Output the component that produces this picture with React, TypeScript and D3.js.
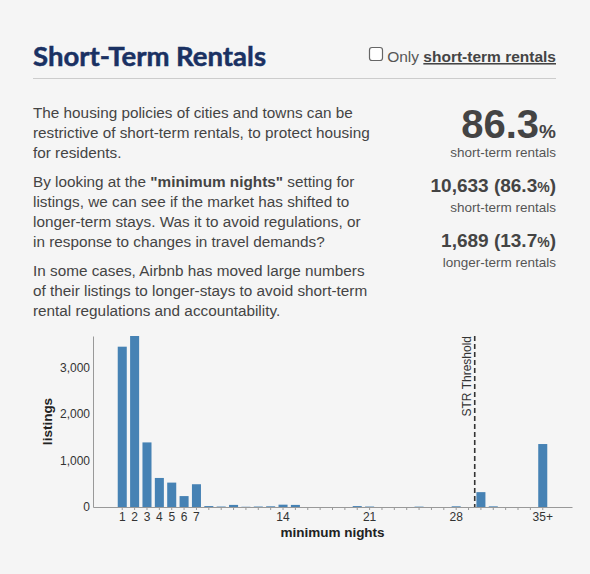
import React, { useRef, useEffect } from 'react';
import * as d3 from 'd3';

// minimum nights categories (35 = "35 or more")
const nights: string[] = [
  '1', '2', '3', '4', '5', '6', '7', '8', '9', '10',
  '11', '12', '13', '14', '15', '16', '17', '18', '19', '20',
  '21', '22', '23', '24', '25', '26', '27', '28', '29', '30',
  '31', '32', '33', '34', '35+',
];
const listings: number[] = [
  3450, 3680, 1390, 625, 525, 235, 490, 20, 10, 45,
  5, 10, 15, 50, 45, 0, 0, 0, 0, 20,
  10, 0, 0, 0, 8, 0, 0, 15, 0, 320,
  14, 0, 0, 0, 1355,
];
const labelledNights: string[] = ['1', '2', '3', '4', '5', '6', '7', '14', '21', '28', '35+'];
const yTicks: number[] = [0, 1000, 2000, 3000];
const threshold = '30';

// headline counts
const shortCount = 10633;
const longCount = 1689;

const paragraphs: string[][] = [
  [
    'The housing policies of cities and towns can be',
    'restrictive of short-term rentals, to protect housing',
    'for residents.',
  ],
  [
    'By looking at the |"minimum nights"| setting for',
    'listings, we can see if the market has shifted to',
    'longer-term stays. Was it to avoid regulations, or',
    'in response to changes in travel demands?',
  ],
  [
    'In some cases, Airbnb has moved large numbers',
    'of their listings to longer-stays to avoid short-term',
    'rental regulations and accountability.',
  ],
];

const sans = 'Arial, "Liberation Sans", sans-serif';

const App: React.FC = () => {
  const svgRef = useRef<SVGSVGElement | null>(null);

  useEffect(() => {
    if (!svgRef.current) return;
    const width = 590;
    const height = 574;
    const svg = d3.select(svgRef.current).attr('width', width).attr('height', height);
    svg.selectAll('*').remove();

    svg.append('rect').attr('width', width).attr('height', height).attr('fill', '#f5f5f5');

    // header
    svg.append('text')
      .attr('x', 33).attr('y', 66)
      .attr('font-family', 'Lato, sans-serif')
      .attr('font-weight', 700)
      .attr('font-size', 27.5)
      .attr('fill', '#1a3163')
      .attr('stroke', '#1a3163')
      .attr('stroke-width', 0.5)
      .text('Short-Term Rentals');

    svg.append('line')
      .attr('x1', 33).attr('x2', 556).attr('y1', 78.5).attr('y2', 78.5)
      .attr('stroke', '#cccccc');

    svg.append('rect')
      .attr('x', 369.5).attr('y', 47.5).attr('width', 13).attr('height', 13)
      .attr('rx', 2.5)
      .attr('fill', '#fff').attr('stroke', '#666').attr('stroke-width', 1.2);

    const only = svg.append('text')
      .attr('x', 556).attr('y', 62)
      .attr('text-anchor', 'end')
      .attr('font-family', sans).attr('font-size', 15.5)
      .attr('fill', '#555');
    only.append('tspan').text('Only ');
    only.append('tspan')
      .attr('font-weight', 700).attr('fill', '#444')
      .attr('text-decoration', 'underline')
      .text('short-term rentals');

    // body text
    const lineStarts = [[118, 138, 158], [187, 207, 227, 247], [276, 296, 316]];
    paragraphs.forEach((lines, p) => {
      lines.forEach((line, i) => {
        const t = svg.append('text')
          .attr('x', 33).attr('y', lineStarts[p][i])
          .attr('font-family', sans).attr('font-size', 15.3)
          .attr('fill', '#444');
        line.split('|').forEach((part, k) => {
          t.append('tspan').attr('font-weight', k === 1 ? 700 : 400).text(part);
        });
      });
    });

    // stats
    const fmt = d3.format(',');
    const shareShort = ((shortCount / (shortCount + longCount)) * 100).toFixed(1);
    const shareLong = ((longCount / (shortCount + longCount)) * 100).toFixed(1);

    const big = svg.append('text')
      .attr('x', 556).attr('y', 138).attr('text-anchor', 'end')
      .attr('font-family', sans).attr('font-weight', 700).attr('fill', '#444');
    big.append('tspan').attr('font-size', 40).text(shareShort);
    big.append('tspan').attr('font-size', 19).text('%');
    svg.append('text')
      .attr('x', 556).attr('y', 157).attr('text-anchor', 'end')
      .attr('font-family', sans).attr('font-size', 13.5).attr('fill', '#555')
      .text('short-term rentals');

    const stat = (y: number, count: number, share: string, label: string) => {
      const t = svg.append('text')
        .attr('x', 556).attr('y', y).attr('text-anchor', 'end')
        .attr('font-family', sans).attr('font-weight', 700).attr('font-size', 19)
        .attr('fill', '#444');
      t.append('tspan').text(`${fmt(count)} (${share}`);
      t.append('tspan').attr('font-size', 14).text('%');
      t.append('tspan').text(')');
      svg.append('text')
        .attr('x', 556).attr('y', y + 20).attr('text-anchor', 'end')
        .attr('font-family', sans).attr('font-size', 13.5).attr('fill', '#555')
        .text(label);
    };
    stat(192, shortCount, shareShort, 'short-term rentals');
    stat(247, longCount, shareLong, 'longer-term rentals');

    // chart
    const left = 93;
    const right = 572;
    const bottom = 507;

    const x = d3.scaleBand<string>()
      .domain(nights)
      .range([left, right])
      .paddingInner(0.27)
      .paddingOuter(2);

    const yMax = d3.max(listings) as number;
    const y = d3.scaleLinear()
      .domain([0, yMax])
      .range([bottom, 336]);

    const g = svg.append('g');

    g.selectAll('rect.bar')
      .data(listings)
      .join('rect')
      .attr('class', 'bar')
      .attr('x', (_, i) => x(nights[i]) as number)
      .attr('width', x.bandwidth())
      .attr('y', d => y(d))
      .attr('height', d => bottom - y(d))
      .attr('fill', '#4682b4');

    const xAxis = g.append('g')
      .attr('transform', `translate(0,${bottom})`)
      .call(
        d3.axisBottom(x)
          .tickSizeInner(3)
          .tickSizeOuter(0)
          .tickPadding(2)
          .tickFormat(d => (labelledNights.includes(d) ? d : ''))
      );
    xAxis.select('.domain').attr('stroke', '#999');
    xAxis.selectAll('.tick line').attr('stroke', '#999');
    xAxis.selectAll('.tick text')
      .attr('font-family', sans).attr('font-size', 12).attr('fill', '#333');

    const yAxis = g.append('g')
      .attr('transform', `translate(${left},0)`)
      .call(
        d3.axisLeft(y)
          .tickValues(yTicks)
          .tickSize(0)
          .tickPadding(3)
          .tickFormat(d => fmt(d as number))
      );
    yAxis.select('.domain').attr('stroke', '#999');
    yAxis.selectAll('.tick text')
      .attr('font-family', sans).attr('font-size', 12).attr('fill', '#333');

    // threshold marker between 29 and 30 nights
    const tx = (x(threshold) as number) - (x.step() - x.bandwidth()) / 2;
    g.append('line')
      .attr('x1', tx).attr('x2', tx)
      .attr('y1', y(yMax)).attr('y2', bottom)
      .attr('stroke', '#333').attr('stroke-width', 1.6)
      .attr('stroke-dasharray', '5,3');
    g.append('text')
      .attr('transform', `translate(${tx - 4},${y(yMax)}) rotate(-90)`)
      .attr('text-anchor', 'end')
      .attr('font-family', sans).attr('font-size', 12).attr('fill', '#333')
      .text('STR Threshold');

    // axis titles
    g.append('text')
      .attr('x', (left + right) / 2).attr('y', 537)
      .attr('text-anchor', 'middle')
      .attr('font-family', sans).attr('font-weight', 700).attr('font-size', 13.5)
      .attr('fill', '#222')
      .text('minimum nights');
    g.append('text')
      .attr('transform', `translate(52,${(bottom + 336) / 2}) rotate(-90)`)
      .attr('text-anchor', 'middle')
      .attr('font-family', sans).attr('font-weight', 700).attr('font-size', 13.5)
      .attr('fill', '#222')
      .text('listings');
  }, []);

  return (
    <div style={{ position: 'absolute', left: 0, top: 0 }}>
      <svg ref={svgRef}></svg>
    </div>
  );
};

export default App;
